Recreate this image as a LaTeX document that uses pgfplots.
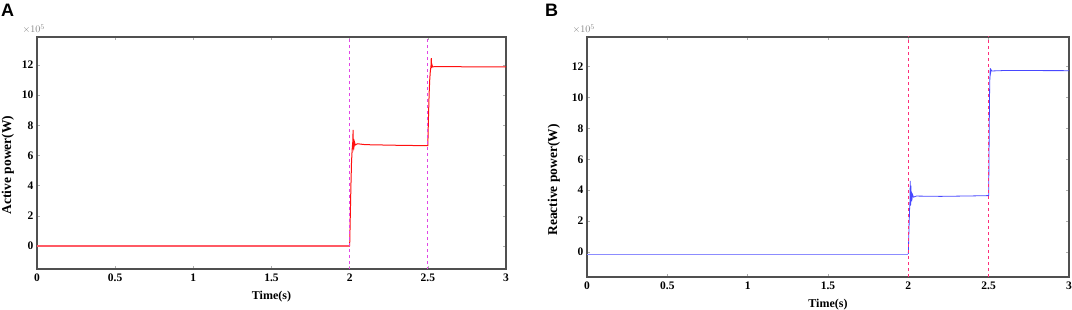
\documentclass[border=0pt]{standalone}
\usepackage{fontspec}
\setmainfont{Liberation Serif}
\newfontfamily\panelfont{Liberation Sans}
\usepackage{pgfplots}
\pgfplotsset{compat=1.18}
\definecolor{axgray}{RGB}{80,80,80}
\definecolor{tickgray}{RGB}{176,176,176}
\definecolor{redmain}{RGB}{255,16,16}
\definecolor{redlight}{RGB}{255,90,100}
\definecolor{bluemain}{RGB}{72,72,255}
\definecolor{bluelight}{RGB}{140,140,255}
\definecolor{magdash}{RGB}{225,70,230}
\definecolor{pinkdash}{RGB}{255,46,122}
\definecolor{scalegray}{RGB}{130,130,130}
\pgfplotsset{
  panel/.style={
    scale only axis,
    anchor=south west,
    xmin=0, xmax=3,
    xtick={0,0.5,1,1.5,2,2.5,3},
    xticklabels={0,0.5,1,1.5,2,2.5,3},
    ytick={0,2,4,6,8,10,12},
    yticklabels={0,2,4,6,8,10,12},
    tick align=inside,
    major tick length=3pt,
    tick style={draw=tickgray, line width=0.5pt},
    axis line style={draw=axgray, line width=1.1pt},
    tick label style={font=\fontsize{11.5}{13}\selectfont\bfseries},
    xticklabel style={yshift=-1pt},
    xlabel style={font=\fontsize{12}{14}\selectfont\bfseries, yshift=-3pt},
    ylabel style={font=\fontsize{13.5}{15}\selectfont\bfseries},
    xlabel={Time(s)},
    clip mode=individual,
  }
}
\begin{document}
\begin{tikzpicture}[x=1pt,y=1pt]
\useasboundingbox (0,0) rectangle (1072,310);
% Panel A
\begin{axis}[panel,
  at={(37pt,41pt)}, width=469pt, height=232pt,
  ymin=-1.525, ymax=13.86,
  ylabel={Active power(W)},
  ylabel style={yshift=1pt, xshift=-12pt},
]
\addplot[draw=redlight, line width=1.1pt] coordinates {(0,0) (2.0,0)};
\addplot[draw=redmain, line width=1pt] coordinates {
(2.0,0) (2.004,2.0) (2.008,4.0) (2.012,5.6) (2.016,6.4) (2.020,6.9) (2.022,7.7) (2.024,6.4) (2.026,7.1)
(2.028,6.6) (2.032,6.85) (2.036,6.7) (2.05,6.78) (2.10,6.72) (2.3,6.68) (2.5,6.65)
(2.504,8.5) (2.508,10.0) (2.512,11.0) (2.516,11.6) (2.520,11.9) (2.522,12.45) (2.524,11.8) (2.527,12.0)
(2.53,11.88) (2.55,11.9) (2.8,11.88) (3,11.88)};
\addplot[draw=magdash, dashed, line width=0.9pt] coordinates {(2.0,-2) (2.0,15)};
\addplot[draw=magdash, dashed, line width=0.9pt] coordinates {(2.5,-2) (2.5,15)};
\node[anchor=south east, inner sep=0pt, text=scalegray, font=\fontsize{10}{11}\selectfont] at (rel axis cs:0,1) [xshift=8pt, yshift=3pt] {$\times10^{5}$};
\end{axis}
% Panel B
\begin{axis}[panel,
  at={(587pt,33pt)}, width=482pt, height=240pt,
  ymin=-1.62, ymax=13.92,
  ylabel={Reactive power(W)},
  ylabel style={yshift=5pt, xshift=-23pt},
]
\addplot[draw=bluelight, line width=0.8pt] coordinates {(0,-0.13) (2.0,-0.13)};
\addplot[draw=bluemain, line width=0.8pt] coordinates {
(2.0,-0.13) (2.004,1.5) (2.008,2.8) (2.010,3.3) (2.012,4.6) (2.014,3.0) (2.016,4.3) (2.018,3.3) (2.020,3.9)
(2.023,3.45) (2.027,3.7) (2.032,3.55) (2.05,3.62) (2.2,3.6) (2.4,3.63) (2.5,3.65)
(2.502,6.0) (2.504,8.5) (2.506,10.5) (2.508,11.5) (2.510,11.9) (2.512,11.6) (2.515,11.8) (2.52,11.72) (2.6,11.75) (3,11.74)};
\addplot[draw=pinkdash, dashed, line width=0.9pt] coordinates {(2.0,-2) (2.0,15)};
\addplot[draw=pinkdash, dashed, line width=0.9pt] coordinates {(2.5,-2) (2.5,15)};
\node[anchor=south east, inner sep=0pt, text=scalegray, font=\fontsize{10}{11}\selectfont] at (rel axis cs:0,1) [xshift=8pt, yshift=3pt] {$\times10^{5}$};
\end{axis}
\node[anchor=north west, inner sep=0pt, font=\panelfont\fontsize{18}{20}\selectfont\bfseries] at (1,306) {A};
\node[anchor=north west, inner sep=0pt, font=\panelfont\fontsize{18}{20}\selectfont\bfseries] at (545,306) {B};
\end{tikzpicture}
\end{document}
